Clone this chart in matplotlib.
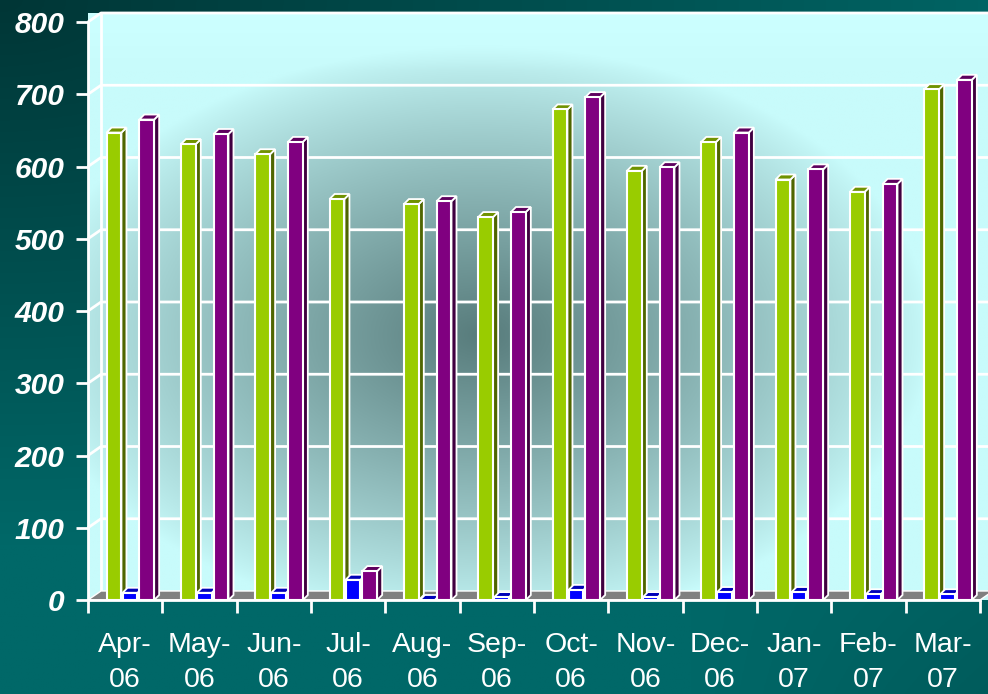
import numpy as np
import matplotlib
matplotlib.use("Agg")
import matplotlib.pyplot as plt
from matplotlib.patches import Polygon, Rectangle
from matplotlib.colors import to_rgb

# ---- data ----
categories = ["Apr-\n06", "May-\n06", "Jun-\n06", "Jul-\n06", "Aug-\n06", "Sep-\n06",
              "Oct-\n06", "Nov-\n06", "Dec-\n06", "Jan-\n07", "Feb-\n07", "Mar-\n07"]
series_green = [647, 631, 617, 555, 548, 530, 679, 594, 634, 582, 565, 707]
series_blue = [10, 10, 10, 28, 0, 4, 14, 4, 11, 11, 8, 8]
series_purple = [665, 645, 634, 40, 552, 537, 696, 599, 647, 596, 576, 720]
y_ticks = [0, 100, 200, 300, 400, 500, 600, 700, 800]

plt.rcParams['font.family'] = ['Liberation Sans', 'DejaVu Sans']

W, H = 988, 694
fig = plt.figure(figsize=(W / 100, H / 100), dpi=100)

# ---- figure background gradient ----
bg = fig.add_axes([0, 0, 1, 1])
bg.set_axis_off()
gx, gy = np.meshgrid(np.linspace(0, 1, 400), np.linspace(0, 1, 300))
t = np.clip(np.sqrt((gx * 1.0) ** 2 + (gy * 1.4) ** 2) / 1.1, 0, 1)
t = t * (1 - 0.25 * np.clip((gx - 0.7) / 0.3, 0, 1) * np.clip((gy - 0.6) / 0.4, 0, 1))
c0 = np.array(to_rgb("#003636"))
c1 = np.array(to_rgb("#006868"))
img = c0[None, None, :] + (c1 - c0)[None, None, :] * t[..., None]
bg.imshow(img, extent=[0, 1, 1, 0], aspect="auto", origin="upper")
bg.set_xlim(0, 1)
bg.set_ylim(1, 0)

# ---- main axes ----
ax = fig.add_axes([88 / W, 94 / H, 892 / W, 578 / H])
ax.set_facecolor("none")
n = len(categories)
ax.set_xlim(-0.5, n - 0.5)
ax.set_ylim(0, 800)

px_per_x = 892 / n
px_per_y = 578 / 800
DX = 13 / px_per_x
DY = 9 / px_per_y

# wall gradient (back wall + side wall)
xs = np.linspace(-0.5, n - 0.5 + DX, 500)
ys = np.linspace(0, 800 + DY, 400)
X, Y = np.meshgrid(xs, ys)
Xp = (X + 0.5) * px_per_x + 88
Yp = 600 - Y * px_per_y
r = np.sqrt(((Xp - 480) / 450) ** 2 + ((Yp - 335) / 290) ** 2)
s = np.clip(1 - r, 0, 1) ** 0.85
light = np.array(to_rgb("#c8fbfb"))
dark = np.array(to_rgb("#587c7c"))
wall = light[None, None, :] + (dark - light)[None, None, :] * s[..., None]
top_boost = np.clip((Yp - 70) / -50, 0, 1)[..., None]
wall = wall * (1 - top_boost) + np.array(to_rgb("#ccffff"))[None, None, :] * top_boost
im = ax.imshow(wall, extent=[xs[0], xs[-1], ys[0], ys[-1]], origin="lower",
               aspect="auto", zorder=0, clip_on=False)
clip_poly = Polygon([(-0.5, 0), (-0.5, 800), (-0.5 + DX, 800 + DY),
                     (n - 0.5 + DX, 800 + DY), (n - 0.5 + DX, DY), (n - 0.5, 0)],
                    closed=True, transform=ax.transData, facecolor="none", edgecolor="none")
ax.add_patch(clip_poly)
im.set_clip_path(clip_poly)
ax.set_xlim(-0.5, n - 0.5)
ax.set_ylim(0, 800)

# gridlines on back wall + side wall
for v in y_ticks[1:]:
    ax.plot([-0.5, -0.5 + DX, n - 0.5 + DX], [v, v + DY, v + DY], color="white",
            lw=2, zorder=1, clip_on=False, solid_capstyle="butt")
ax.plot([-0.5 + DX, -0.5 + DX], [DY, 800 + DY], color="white", lw=2, zorder=1, clip_on=False)

# floor
floor = Polygon([(-0.5, 0), (n - 0.5, 0), (n - 0.5 + DX, DY), (-0.5 + DX, DY)], closed=True,
                facecolor="#808080", edgecolor="white", lw=1, zorder=2, clip_on=False)
ax.add_patch(floor)

# bars
bw = 0.2
bdx = 5 / px_per_x
bdy = 5 / px_per_y
offsets = [-0.15, 0.065, 0.29]
styles = [("#99cc00", "#4f6600", "#6f9200"),
          ("#0000ff", "#000080", "#0000b8"),
          ("#800080", "#400040", "#5e005e")]
all_series = [series_green, series_blue, series_purple]

z = 3
for i in range(n):
    for off, vals, (cf, cs, ct) in zip(offsets, all_series, styles):
        h = vals[i]
        x0 = i + off - bw / 2
        side = Polygon([(x0 + bw, 0), (x0 + bw + bdx, bdy), (x0 + bw + bdx, h + bdy), (x0 + bw, h)],
                       closed=True, facecolor=cs, edgecolor="white", lw=1.3, zorder=z, clip_on=False)
        top = Polygon([(x0, h), (x0 + bw, h), (x0 + bw + bdx, h + bdy), (x0 + bdx, h + bdy)],
                      closed=True, facecolor=ct, edgecolor="white", lw=1.3, zorder=z, clip_on=False)
        ax.add_patch(side)
        ax.add_patch(top)
        if h > 0:
            front = Rectangle((x0, 0), bw, h, facecolor=cf, edgecolor="white", lw=1.5,
                              zorder=z + 0.5, clip_on=False)
            ax.add_patch(front)
        z += 1

# spines
for sp in ["top", "right"]:
    ax.spines[sp].set_visible(False)
for sp in ["left", "bottom"]:
    ax.spines[sp].set_color("white")
    ax.spines[sp].set_linewidth(2)
    ax.spines[sp].set_zorder(200)

# ticks
ax.set_yticks(y_ticks)
ax.set_yticklabels([str(v) for v in y_ticks], fontsize=21.5, fontweight="bold",
                   fontstyle="italic", color="white")
ax.tick_params(axis="y", direction="out", length=9, width=2, color="white", pad=8)

ax.set_xticks(np.arange(n))
ax.set_xticklabels(categories, fontsize=20.5, color="white", linespacing=1.45)
ax.set_xticks(np.arange(n + 1) - 0.5, minor=True)
ax.tick_params(axis="x", which="major", length=0, pad=23)
ax.tick_params(axis="x", which="minor", direction="out", length=9, width=2, color="white")

fig.savefig("out.png", dpi=100)
